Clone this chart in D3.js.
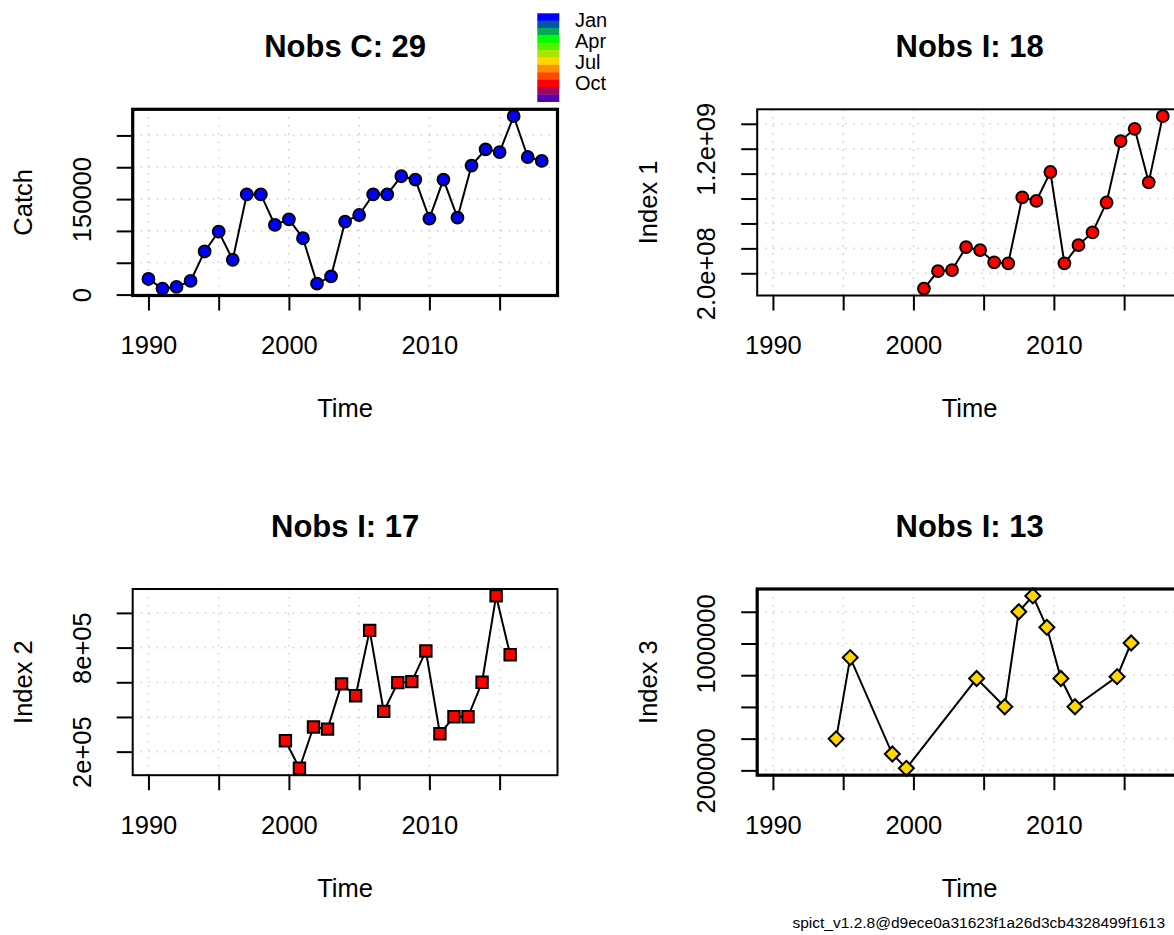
<!DOCTYPE html>
<html><head><meta charset="utf-8">
<script src="https://cdn.jsdelivr.net/npm/d3@7"></script>
<style>
body{margin:0;background:#fff}
svg{display:block}
text{font-family:"Liberation Sans",Arial,Helvetica,sans-serif;fill:#000}
</style>
</head><body>
<svg id="chart" width="1174" height="935"></svg>
<script>
// ---------------- data ----------------
const monthColors = ["#0000FF","#0055AA","#00AA55","#00FF00","#55F200","#AAE400",
                     "#FFD700","#FF8F00","#FF4800","#FF0000","#AA0055","#5500AA"];
const legendLabels = ["Jan","Apr","Jul","Oct"];
const xTickValues = [1990,1995,2000,2005,2010,2015];

const catchTimes = [1990,1991,1992,1993,1994,1995,1996,1997,1998,1999,2000,2001,2002,2003,2004,
                    2005,2006,2007,2008,2009,2010,2011,2012,2013,2014,2015,2016,2017,2018];
const catchValues = [24500,9400,12000,21400,67700,98900,54700,157300,157300,109400,118200,88500,17200,28600,114500,
                     125000,157300,157300,185900,180700,119300,180700,120800,202600,228100,223900,280200,216100,209900];

const index1Times = [2000.75,2001.75,2002.75,2003.75,2004.75,2005.75,2006.75,2007.75,2008.75,
                     2009.75,2010.75,2011.75,2012.75,2013.75,2014.75,2015.75,2016.75,2017.75];
const index1Values = [77e6,218e6,226e6,410e6,386e6,288e6,280e6,810e6,781e6,
                      1013e6,280e6,426e6,528e6,768e6,1261e6,1360e6,930e6,1461e6];

const index2Times = [1999.75,2000.75,2001.75,2002.75,2003.75,2004.75,2005.75,2006.75,2007.75,
                     2008.75,2009.75,2010.75,2011.75,2012.75,2013.75,2014.75,2015.75];
const index2Values = [263e3,104e3,342e3,330e3,591e3,522e3,899e3,432e3,598e3,
                      604e3,780e3,303e3,401e3,401e3,600e3,1098e3,759e3];

const index3Times = [1994.5,1995.5,1998.5,1999.5,2004.5,2006.5,2007.5,2008.5,2009.5,2010.5,2011.5,2014.5,2015.5];
const index3Values = [399e3,911e3,303e3,213e3,779e3,601e3,1200e3,1300e3,1102e3,779e3,601e3,791e3,1003e3];

const yTicksCatch = [0,50000,100000,150000,200000,250000];
const yLabelsCatch = ["0","50000","100000","150000","200000","250000"];
const yTicksI1 = [2e8,4e8,6e8,8e8,1e9,1.2e9,1.4e9];
const yLabelsI1 = ["2.0e+08","4.0e+08","6.0e+08","8.0e+08","1.0e+09","1.2e+09","1.4e+09"];
const yTicksI2 = [2e5,4e5,6e5,8e5,1e6];
const yLabelsI2 = ["2e+05","4e+05","6e+05","8e+05","1e+06"];
const yTicksI3 = [2e5,4e5,6e5,8e5,1e6,1.2e6];
const yLabelsI3 = ["200000","400000","600000","800000","1000000","1200000"];

const footerText = "spict_v1.2.8@d9ece0a31623f1a26d3cb4328499f1613";

// ---------------- layout ----------------
const svg = d3.select("#chart");
const colX = [132.7, 757.2];
const rowY = [109.3, 589.0];
const W = 424.8, H = 186.2;
const FS = 25.5;            // base font size
const GAP = 0.833 * FS;     // R-style label gap (width of "m")

const allTimes = [].concat(catchTimes, index1Times, index2Times, index3Times);
const tExt = d3.extent(allTimes);
const tPad = 0.04 * (tExt[1] - tExt[0]);
const xDomain = [tExt[0] - tPad, tExt[1] + tPad];

function monthColor(t) {
  const frac = t - Math.floor(t);
  return monthColors[Math.floor(frac * 12 + 1e-6) % 12];
}

const panels = [
  {title: "Nobs C: " + catchValues.length, ylab: "Catch", times: catchTimes, values: catchValues,
   ticks: yTicksCatch, labels: yLabelsCatch, shape: "circle", col: 0, row: 0, boxW: 3.2},
  {title: "Nobs I: " + index1Values.length, ylab: "Index 1", times: index1Times, values: index1Values,
   ticks: yTicksI1, labels: yLabelsI1, shape: "circle", col: 1, row: 0, boxW: 2},
  {title: "Nobs I: " + index2Values.length, ylab: "Index 2", times: index2Times, values: index2Values,
   ticks: yTicksI2, labels: yLabelsI2, shape: "square", col: 0, row: 1, boxW: 2},
  {title: "Nobs I: " + index3Values.length, ylab: "Index 3", times: index3Times, values: index3Values,
   ticks: yTicksI3, labels: yLabelsI3, shape: "diamond", col: 1, row: 1, boxW: 3.2}
];

function thin(textNodes, positions) {
  // R-style: skip labels overlapping the last drawn one
  let lastEnd = -Infinity;
  textNodes.forEach((node, i) => {
    const w = node.getComputedTextLength();
    const a = positions[i] - w / 2, b = positions[i] + w / 2;
    if (a >= lastEnd + GAP) { lastEnd = b; }
    else { d3.select(node).remove(); }
  });
}

panels.forEach(p => {
  const g = svg.append("g").attr("transform", `translate(${colX[p.col]},${rowY[p.row]})`);
  const x = d3.scaleLinear().domain(xDomain).range([0, W]);
  const ext = d3.extent(p.values);
  const pad = 0.04 * (ext[1] - ext[0]);
  const y = d3.scaleLinear().domain([ext[0] - pad, ext[1] + pad]).range([H, 0]);

  // grid
  const grid = g.append("g").attr("stroke", "#d3d3d3").attr("stroke-width", 1.6)
    .attr("stroke-dasharray", "1.6,6.4");
  grid.selectAll("line.v").data(xTickValues).join("line").attr("class", "v")
    .attr("x1", d => x(d)).attr("x2", d => x(d)).attr("y1", 0).attr("y2", H);
  grid.selectAll("line.h").data(p.ticks).join("line").attr("class", "h")
    .attr("x1", 0).attr("x2", W).attr("y1", d => y(d)).attr("y2", d => y(d));

  // line
  const pts = p.times.map((t, i) => ({t: t, v: p.values[i]}));
  g.append("path").datum(pts)
    .attr("fill", "none").attr("stroke", "#000").attr("stroke-width", 2)
    .attr("d", d3.line().x(d => x(d.t)).y(d => y(d.v)));

  // points
  let sym;
  if (p.shape === "circle") sym = d3.symbol().type(d3.symbolCircle).size(Math.PI * 5.9 * 5.9);
  else if (p.shape === "square") sym = d3.symbol().type(d3.symbolSquare).size(11.4 * 11.4);
  else sym = d3.symbol().type(d3.symbolSquare).size(10.6 * 10.6);
  g.selectAll("path.pt").data(pts).join("path").attr("class", "pt")
    .attr("d", sym)
    .attr("transform", d => `translate(${x(d.t)},${y(d.v)})` + (p.shape === "diamond" ? " rotate(45)" : ""))
    .attr("fill", d => monthColor(d.t)).attr("stroke", "#000").attr("stroke-width", 2);

  // box
  g.append("rect").attr("x", 0).attr("y", 0).attr("width", W).attr("height", H)
    .attr("fill", "none").attr("stroke", "#000").attr("stroke-width", p.boxW);

  // x axis
  const xa = g.append("g").attr("transform", `translate(0,${H})`)
    .call(d3.axisBottom(x).tickValues(xTickValues).tickFormat(d3.format("d")).tickSize(15));
  xa.select(".domain").remove();
  xa.selectAll(".tick line").attr("stroke", "#000").attr("stroke-width", 2);
  xa.selectAll(".tick text").attr("y", 58.5).attr("dy", null)
    .attr("font-size", FS).attr("font-family", null).attr("fill", "#000");
  thin(xa.selectAll(".tick text").nodes(), xTickValues.map(x));

  // y axis
  const ya = g.append("g")
    .call(d3.axisLeft(y).tickValues(p.ticks).tickFormat((d, i) => p.labels[i]).tickSize(16));
  ya.select(".domain").remove();
  ya.selectAll(".tick line").attr("stroke", "#000").attr("stroke-width", 2);
  ya.selectAll(".tick text").attr("x", null).attr("dy", null)
    .attr("text-anchor", "middle").attr("transform", "translate(-42,0) rotate(-90)")
    .attr("font-size", FS).attr("font-family", null).attr("fill", "#000");
  thin(ya.selectAll(".tick text").nodes(), p.ticks.map(d => -y(d)));

  // titles
  g.append("text").attr("x", W / 2).attr("y", -52.3).attr("text-anchor", "middle")
    .attr("font-size", 31).attr("font-weight", "bold").text(p.title);
  g.append("text").attr("x", W / 2).attr("y", H + 122).attr("text-anchor", "middle")
    .attr("font-size", FS).text("Time");
  g.append("text").attr("transform", `translate(-100.7,${H / 2}) rotate(-90)`)
    .attr("text-anchor", "middle").attr("font-size", FS).text(p.ylab);
});

// legend colour bar
const lg = svg.append("g");
const band = d3.scaleBand().domain(d3.range(monthColors.length)).range([13.3, 101.7]).paddingInner(0);
lg.selectAll("rect").data(monthColors).join("rect")
  .attr("x", 537.3).attr("width", 22).attr("y", (d, i) => band(i)).attr("height", band.bandwidth() + 0.3)
  .attr("fill", d => d);
const lpos = d3.scalePoint().domain(legendLabels).range([26.7, 90]);
lg.selectAll("text").data(legendLabels).join("text")
  .attr("x", 575).attr("y", d => lpos(d)).attr("font-size", 20).text(d => d);

// footer
svg.append("text").attr("x", 792.5).attr("y", 928).attr("font-size", 15.5).text(footerText);
</script>
</body></html>
